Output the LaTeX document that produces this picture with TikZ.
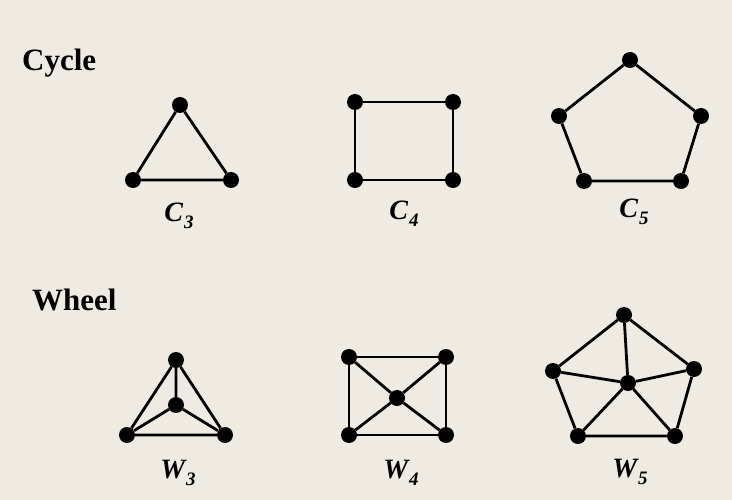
\documentclass[tikz,border=0pt]{standalone}
\usepackage{fontspec}
\setmainfont{Liberation Serif}
\definecolor{bg}{RGB}{239,235,226}
\tikzset{
  vtx/.style={circle,fill=black,inner sep=0pt,minimum size=16pt},
  edge/.style={line width=2.8pt,black},
  title/.style={anchor=base west,font=\bfseries\fontsize{31}{34}\selectfont,inner sep=0pt},
  glabel/.style={anchor=base,font=\bfseries\itshape\fontsize{28}{30}\selectfont,inner sep=0pt}
}
\newcommand{\glab}[2]{#1\kern1pt\raisebox{-7pt}{\fontsize{19}{21}\selectfont #2}}
\begin{document}
\begin{tikzpicture}[x=1pt,y=-1pt]
\fill[bg] (0,0) rectangle (732,500);
\useasboundingbox (0,0) rectangle (732,500);
\node[title] (tc) at (22,71) {Cycle};
\node[title] (tw) at (32,311) {Wheel};
% C3
\node[vtx] (a1) at (180,105) {};
\node[vtx] (a2) at (133,180) {};
\node[vtx] (a3) at (231,180) {};
\draw[edge] (a1)--(a2)--(a3)--(a1);
\node[glabel] (la) at (179,222) {\glab{C}{3}};
% C4
\node[vtx] (b1) at (355,102) {};
\node[vtx] (b2) at (453,102) {};
\node[vtx] (b3) at (453,180) {};
\node[vtx] (b4) at (355,180) {};
\draw[edge] (b1)--(b2)--(b3)--(b4)--(b1);
\node[glabel] (lb) at (404,220) {\glab{C}{4}};
% C5
\node[vtx] (c1) at (630,60) {};
\node[vtx] (c2) at (701,116) {};
\node[vtx] (c3) at (681,181) {};
\node[vtx] (c4) at (584,181) {};
\node[vtx] (c5) at (559,116) {};
\draw[edge] (c1)--(c2)--(c3)--(c4)--(c5)--(c1);
\node[glabel] (lc) at (634,218) {\glab{C}{5}};
% W3
\node[vtx] (d1) at (176,360) {};
\node[vtx] (d0) at (176,405) {};
\node[vtx] (d2) at (127,435) {};
\node[vtx] (d3) at (225,435) {};
\draw[edge] (d1)--(d2)--(d3)--(d1);
\draw[edge] (d0)--(d1) (d0)--(d2) (d0)--(d3);
\node[glabel] (ld) at (178,478) {\glab{W}{3}};
% W4
\node[vtx] (e1) at (349,357) {};
\node[vtx] (e2) at (446,357) {};
\node[vtx] (e3) at (446,435) {};
\node[vtx] (e4) at (349,435) {};
\node[vtx] (e0) at (397,398) {};
\draw[edge] (e1)--(e2)--(e3)--(e4)--(e1);
\draw[edge] (e0)--(e1) (e0)--(e2) (e0)--(e3) (e0)--(e4);
\node[glabel] (le) at (401,478) {\glab{W}{4}};
% W5
\node[vtx] (f1) at (624,315) {};
\node[vtx] (f2) at (694,369) {};
\node[vtx] (f3) at (675,436) {};
\node[vtx] (f4) at (578,436) {};
\node[vtx] (f5) at (553,371) {};
\node[vtx] (f0) at (628,383) {};
\draw[edge] (f1)--(f2)--(f3)--(f4)--(f5)--(f1);
\draw[edge] (f0)--(f1) (f0)--(f2) (f0)--(f3) (f0)--(f4) (f0)--(f5);
\node[glabel] (lf) at (630,477) {\glab{W}{5}};
\end{tikzpicture}
\end{document}
